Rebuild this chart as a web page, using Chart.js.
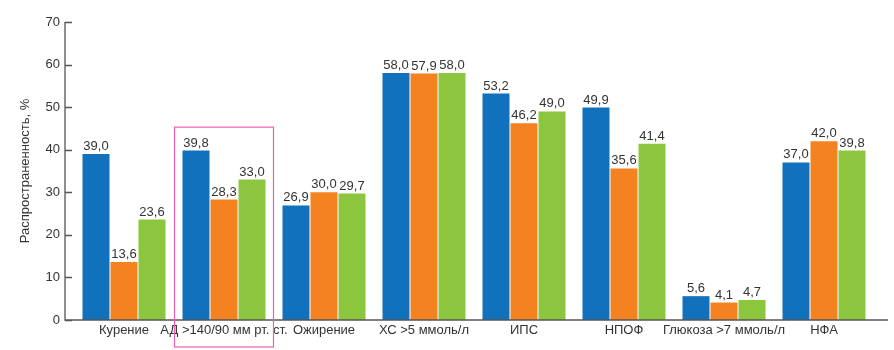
<!DOCTYPE html>
<html lang="ru">
<head>
<meta charset="utf-8">
<script src="https://cdn.jsdelivr.net/npm/chart.js@4/dist/chart.umd.min.js"></script>
<style>
  html, body { margin: 0; padding: 0; background: #fff; }
  #wrap { width: 894px; height: 350px; }
</style>
</head>
<body>
<div id="wrap"><canvas id="c"></canvas></div>
<script>
// Risk factors and their prevalence (%) in three groups
const categories = ['Курение', 'АД >140/90 мм рт. ст.', 'Ожирение', 'ХС >5 ммоль/л', 'ИПС', 'НПОФ', 'Глюкоза >7 ммоль/л', 'НФА'];
const seriesBlue   = [39.0, 39.8, 26.9, 58.0, 53.2, 49.9, 5.6, 37.0];
const seriesOrange = [13.6, 28.3, 30.0, 57.9, 46.2, 35.6, 4.1, 42.0];
const seriesGreen  = [23.6, 33.0, 29.7, 58.0, 49.0, 41.4, 4.7, 39.8];
const yTicks = [0, 10, 20, 30, 40, 50, 60, 70];
const highlightedIndex = 1;   // category framed by the pink box
const highlightTop = 45.3;    // upper edge of that frame, in axis units

const FONT = "'Liberation Sans', Arial, sans-serif";
const TEXT = '#333333';
const AXIS = '#555555';

const fmt = v => v.toFixed(1).replace('.', ',');

// Axis lines, inward tick marks, value labels and the highlight frame
const decor = {
  id: 'decor',
  afterDatasetsDraw(chart) {
    const { ctx, scales: { x, y }, chartArea: a } = chart;
    const y0 = y.getPixelForValue(0);
    const yTop = y.getPixelForValue(yTicks[yTicks.length - 1]);
    const axisX = a.left - 9;
    ctx.save();
    ctx.strokeStyle = AXIS;
    ctx.lineWidth = 1.3;
    ctx.beginPath();
    ctx.moveTo(axisX, yTop);
    ctx.lineTo(axisX, y0);
    ctx.lineTo(a.right + 14, y0);
    yTicks.forEach(t => {
      const py = Math.round(y.getPixelForValue(t)) + 0.5;
      ctx.moveTo(axisX, py);
      ctx.lineTo(axisX + 7, py);
    });
    ctx.stroke();

    // value labels
    ctx.fillStyle = TEXT;
    ctx.font = '13px ' + FONT;
    ctx.textAlign = 'center';
    ctx.textBaseline = 'alphabetic';
    chart.data.datasets.forEach((ds, di) => {
      chart.getDatasetMeta(di).data.forEach((bar, i) => {
        ctx.fillText(fmt(ds.data[i]), bar.x, bar.y - 4);
      });
    });

    // frame around the highlighted category
    const half = (x.getPixelForValue(1) - x.getPixelForValue(0)) / 2;
    const cx = x.getPixelForValue(highlightedIndex);
    const top = y.getPixelForValue(highlightTop);
    ctx.strokeStyle = '#ec5fb4';
    ctx.lineWidth = 1.2;
    ctx.strokeRect(cx - half + 0.5, top, half * 2 - 1, (y0 + 27) - top);
    ctx.restore();
  }
};

new Chart(document.getElementById('c'), {
  type: 'bar',
  data: {
    labels: categories,
    datasets: [
      { data: seriesBlue,   backgroundColor: '#1271bd' },
      { data: seriesOrange, backgroundColor: '#f48220' },
      { data: seriesGreen,  backgroundColor: '#8cc63f' }
    ]
  },
  options: {
    responsive: true,
    maintainAspectRatio: false,
    animation: false,
    layout: { padding: { top: 22, right: 20, left: 0, bottom: 0 } },
    plugins: { legend: { display: false }, tooltip: { enabled: false } },
    datasets: { bar: { categoryPercentage: 0.84, barPercentage: 0.964 } },
    scales: {
      x: {
        grid: { display: false, drawTicks: false },
        border: { display: false },
        ticks: {
          autoSkip: false, maxRotation: 0, minRotation: 0, padding: 3,
          color: TEXT, font: { family: FONT, size: 13 }
        },
        afterFit(s) { s.height = 30; }
      },
      y: {
        min: 0, max: 70,
        grid: { display: false, drawTicks: false },
        border: { display: false },
        ticks: {
          stepSize: 10, padding: 14,
          color: TEXT, font: { family: FONT, size: 13 }
        },
        title: {
          display: true, text: 'Распространенность, %',
          color: TEXT, font: { family: FONT, size: 13 },
          padding: { top: 18, bottom: 0 }
        },
        afterFit(s) { s.width = 74; }
      }
    }
  },
  plugins: [decor]
});
</script>
</body>
</html>
